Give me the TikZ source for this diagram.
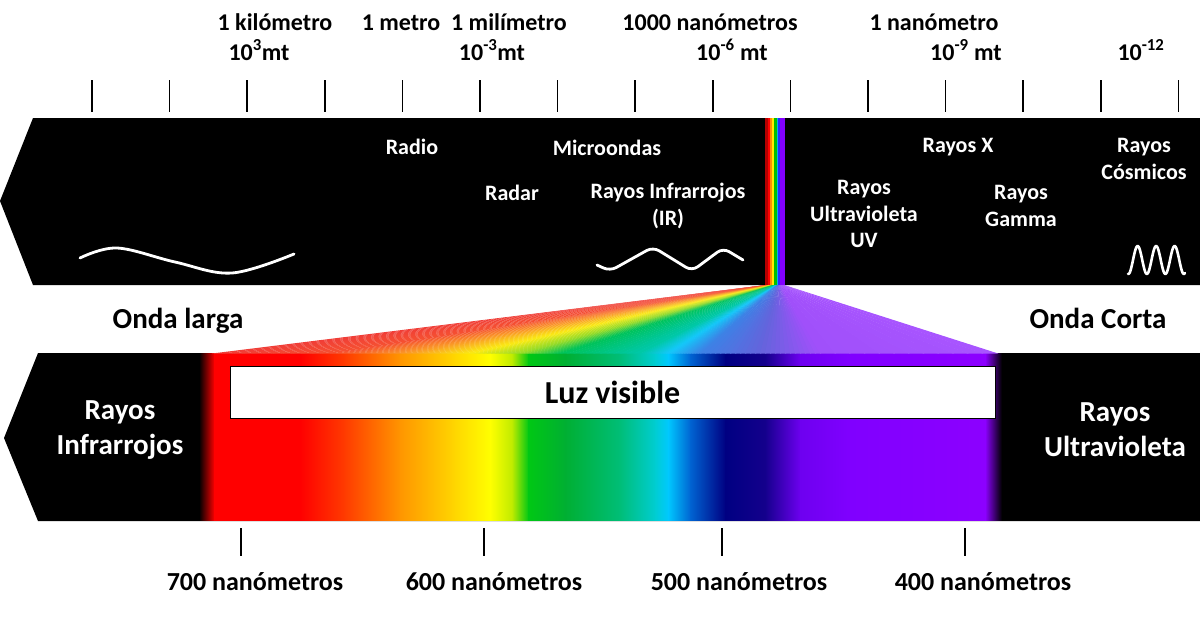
\documentclass[tikz,border=0pt]{standalone}
\usepackage{fontspec}
\setmainfont{Carlito}
\definecolor{sR}{RGB}{255,0,0}
\definecolor{sRO}{RGB}{255,60,0}
\definecolor{sO}{RGB}{255,150,0}
\definecolor{sOY}{RGB}{255,215,0}
\definecolor{sY}{RGB}{255,255,0}
\definecolor{sYG}{RGB}{190,235,0}
\definecolor{sG}{RGB}{0,200,20}
\definecolor{sGb}{RGB}{0,175,50}
\definecolor{sT}{RGB}{0,190,120}
\definecolor{sTC}{RGB}{0,205,210}
\definecolor{sC}{RGB}{0,200,255}
\definecolor{sB}{RGB}{0,100,210}
\definecolor{sN}{RGB}{0,0,130}
\definecolor{sNb}{RGB}{20,0,140}
\definecolor{sV}{RGB}{110,0,240}
\definecolor{sVb}{RGB}{128,0,255}
\definecolor{sVc}{RGB}{140,0,255}
% fan colours
\definecolor{fR}{RGB}{240,60,55}
\definecolor{fRO}{RGB}{245,80,50}
\definecolor{fO}{RGB}{250,150,40}
\definecolor{fY}{RGB}{250,235,20}
\definecolor{fYG}{RGB}{150,220,40}
\definecolor{fG}{RGB}{0,195,90}
\definecolor{fT}{RGB}{0,200,170}
\definecolor{fC}{RGB}{20,200,250}
\definecolor{fB}{RGB}{60,130,230}
\definecolor{fBV}{RGB}{100,100,220}
\definecolor{fV}{RGB}{160,80,250}
\definecolor{fVb}{RGB}{168,85,255}
% strip colours
\definecolor{kDR}{RGB}{180,0,0}
\definecolor{kO}{RGB}{255,140,0}
\definecolor{kY}{RGB}{255,235,0}
\definecolor{kG}{RGB}{0,190,0}
\definecolor{kC}{RGB}{0,180,230}
\definecolor{kB}{RGB}{40,40,255}
\definecolor{kV}{RGB}{130,0,255}
\begin{document}
\begin{tikzpicture}[x=1pt,y=-1pt,
  toplbl/.style={font=\bfseries\fontsize{24}{28}\selectfont, inner sep=0, anchor=base},
  bandlbl/.style={font=\bfseries\fontsize{22}{26.5}\selectfont, text=white, inner sep=0, align=center},
  biglbl/.style={font=\bfseries\fontsize{29}{35}\selectfont, inner sep=0, align=center},
  nmlbl/.style={font=\bfseries\fontsize{26}{30}\selectfont, inner sep=0, anchor=base},
  tickline/.style={black, line width=1.5},
  wave/.style={white, line width=2.8, line cap=round, line join=round}]
\useasboundingbox (0,0) rectangle (1200,630);
\fill[white] (0,0) rectangle (1200,630);

% top scale ticks
\foreach \i in {0,...,14}
  \draw[tickline] ({92+77.6*\i},80) -- ({92+77.6*\i},112);

% top labels
\node[toplbl] (km) at (275,30) {1 kilómetro};
\node[toplbl] (kme) at (259,60) {10\textsuperscript{3}mt};
\node[toplbl] (m) at (401,30) {1 metro};
\node[toplbl] (mm) at (509,30) {1 milímetro};
\node[toplbl] (mme) at (492,60) {10\textsuperscript{-3}mt};
\node[toplbl] (um) at (710,30) {1000 nanómetros};
\node[toplbl] (ume) at (732,60) {10\textsuperscript{-6} mt};
\node[toplbl] (nm) at (934,30) {1 nanómetro};
\node[toplbl] (nme) at (966,60) {10\textsuperscript{-9} mt};
\node[toplbl] (pm) at (1141,60) {10\textsuperscript{-12}};

% top black band
\fill[black] (33,118) -- (1200,118) -- (1200,285) -- (33,285) -- (0,201) -- cycle;

% rainbow strip
\foreach \xa/\xb/\c in {765/767.5/kDR, 767.5/770/sR, 770/771.8/kO, 771.8/773.5/kY, 773.5/776.5/kG, 776.5/778.3/kC, 778.3/780/kB, 780/785/kV}
  \fill[\c] (\xa,118) rectangle (\xb+0.4,285);

% bottom black band
\fill[black] (38,353) -- (1200,353) -- (1200,521) -- (38,521) -- (4,438) -- cycle;

% visible spectrum in bottom band
\foreach \xa/\ca/\xb/\cb in {199/black/214/sR, 214/sR/300/sR, 300/sR/345/sRO, 345/sRO/400/sO, 400/sO/455/sOY, 455/sOY/490/sY, 490/sY/512/sYG, 512/sYG/528/sG, 528/sG/565/sGb, 565/sGb/620/sT, 620/sT/655/sTC, 655/sTC/668/sC, 668/sC/690/sB, 690/sB/725/sN, 725/sN/765/sNb, 765/sNb/800/sV, 800/sV/850/sVb, 850/sVb/985/sVc, 985/sVc/1001/black}
  \shade[left color=\ca, right color=\cb] (\xa,353.5) rectangle (\xb+0.8,520.5);

% fan from the strip to the spectrum
\foreach \xa/\ca/\xb/\cb in {212/fR/330/fRO, 330/fRO/400/fO, 400/fO/470/fY, 470/fY/520/fYG, 520/fYG/560/fG, 560/fG/640/fT, 640/fT/668/fC, 668/fC/700/fB, 700/fB/760/fBV, 760/fBV/820/fV, 820/fV/997/fVb}{
  \foreach \k in {0,...,11}{
    \pgfmathsetmacro\ua{\xa+(\xb-\xa)*\k/12}
    \pgfmathsetmacro\ub{\xa+(\xb-\xa)*(\k+1)/12}
    \pgfmathtruncatemacro\pp{100*(\k+0.5)/12}
    \colorlet{fc}{\cb!\pp!\ca}
    \fill[fc] ({766+(\ua-212)*0.02293},285) -- ({766+(\ub-212)*0.02293+0.1},285) -- ({\ub+1.2},353.5) -- (\ua,353.5) -- cycle;
  }
}

% waves
\draw[wave] plot[smooth, tension=0.6] coordinates {(80,258) (117,248) (175,262) (232,273) (294,254)};
\draw[wave, rounded corners=7] (597,265) -- (610,271) -- (653,247) -- (692,271) -- (723,248) -- (743,260);
\draw[wave, line width=2.6] plot[domain=0:57, samples=90, smooth] ({1128+\x}, {260-14*sin(19.459*(\x-5))});

% top band labels
\node[bandlbl, anchor=base] (radio) at (412,154) {Radio};
\node[bandlbl, anchor=base] (micro) at (607,155) {Microondas};
\node[bandlbl, anchor=base] (radar) at (512,200) {Radar};
\node[bandlbl] (ir) at (668,206) {Rayos Infrarrojos\\(IR)};
\node[bandlbl] (uv) at (864,214) {Rayos\\Ultravioleta\\UV};
\node[bandlbl, anchor=base] (rx) at (958,152) {Rayos X};
\node[bandlbl] (gamma) at (1021,206) {Rayos\\Gamma};
\node[bandlbl] (cosm) at (1144,159) {Rayos\\Cósmicos};

% middle labels
\node[biglbl, anchor=base] (larga) at (178,328) {Onda larga};
\node[biglbl, anchor=base] (corta) at (1098,328) {Onda Corta};

% bottom band labels
\node[biglbl, text=white] (irb) at (120,430) {Rayos\\Infrarrojos};
\node[biglbl, text=white] (uvb) at (1115,430) {Rayos\\Ultravioleta};
\node[draw=black, fill=white, line width=0.9, minimum width=765, minimum height=52, inner sep=0,
      font=\bfseries\fontsize{32}{36}\selectfont] (luz) at (612.5,392) {Luz visible};

% bottom ticks and labels
\foreach \x in {241,484,722,965}
  \draw[tickline] (\x,528) -- (\x,556);
\node[nmlbl] (n700) at (255,590) {700 nanómetros};
\node[nmlbl] (n600) at (494,590) {600 nanómetros};
\node[nmlbl] (n500) at (739,590) {500 nanómetros};
\node[nmlbl] (n400) at (983,590) {400 nanómetros};
\end{tikzpicture}
\end{document}
